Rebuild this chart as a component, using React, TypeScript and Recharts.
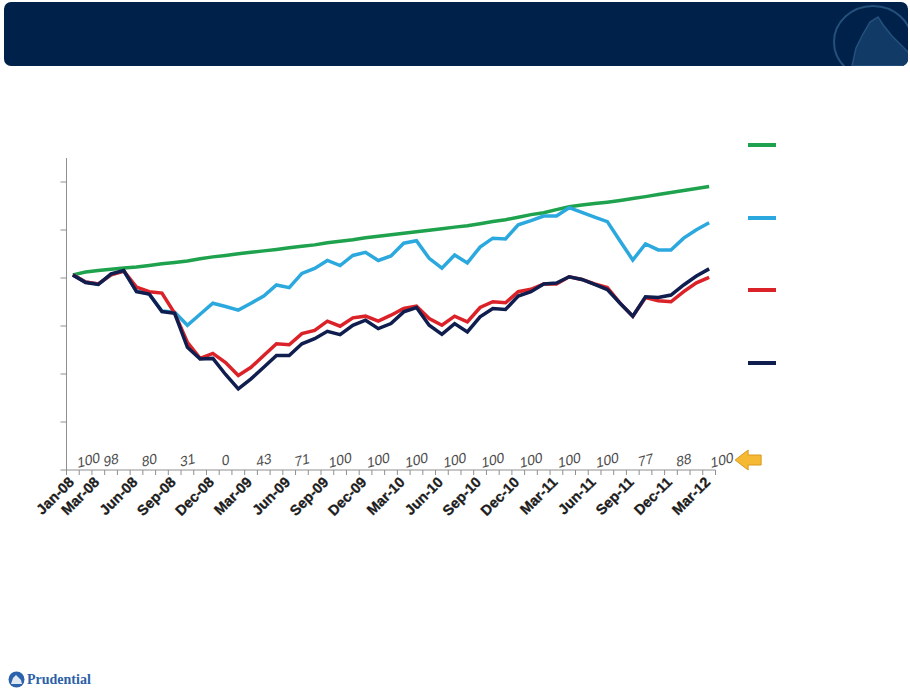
import React from 'react'
import { LineChart, Line, XAxis, YAxis, Legend } from 'recharts'

// monthly categories, Jan-08 .. Mar-12
const months = [
  'Jan-08', 'Feb-08', 'Mar-08', 'Apr-08', 'May-08', 'Jun-08', 'Jul-08', 'Aug-08', 'Sep-08', 'Oct-08', 'Nov-08', 'Dec-08',
  'Jan-09', 'Feb-09', 'Mar-09', 'Apr-09', 'May-09', 'Jun-09', 'Jul-09', 'Aug-09', 'Sep-09', 'Oct-09', 'Nov-09', 'Dec-09',
  'Jan-10', 'Feb-10', 'Mar-10', 'Apr-10', 'May-10', 'Jun-10', 'Jul-10', 'Aug-10', 'Sep-10', 'Oct-10', 'Nov-10', 'Dec-10',
  'Jan-11', 'Feb-11', 'Mar-11', 'Apr-11', 'May-11', 'Jun-11', 'Jul-11', 'Aug-11', 'Sep-11', 'Oct-11', 'Nov-11', 'Dec-11',
  'Jan-12', 'Feb-12', 'Mar-12',
]

const greenSeries = [
  101.3, 102.5, 103.1, 103.6, 104.2, 104.6, 105.2, 105.9, 106.5, 107.1, 108.0, 108.8,
  109.4, 110.1, 110.7, 111.3, 111.9, 112.6, 113.2, 113.8, 114.7, 115.3, 115.9, 116.8,
  117.4, 118.0, 118.6, 119.3, 119.9, 120.5, 121.2, 121.8, 122.6, 123.5, 124.3, 125.3,
  126.4, 127.2, 128.5, 129.7, 130.4, 131.0, 131.6, 132.3, 133.1, 133.9, 134.8, 135.6,
  136.5, 137.3, 138.1,
]

const blueSeries = [
  101.3, 98.3, 97.5, 101.3, 102.9, 94.6, 93.3, 86.2, 85.8, 80.3, 84.9, 89.5,
  88.1, 86.6, 89.5, 92.5, 97.1, 96.0, 101.9, 104.0, 107.3, 105.2, 109.4, 110.7,
  107.3, 109.2, 114.5, 115.5, 108.2, 104.1, 109.6, 106.3, 112.9, 116.6, 116.3, 122.2,
  123.9, 125.8, 125.8, 129.3, 127.3, 125.4, 123.5, 115.4, 107.5, 114.2, 111.7, 111.7,
  116.6, 120.1, 123.0,
]

const redSeries = [
  101.3, 98.3, 97.5, 101.3, 102.9, 96.2, 94.3, 93.7, 85.3, 73.2, 66.5, 68.6,
  64.8, 59.4, 62.8, 67.7, 72.6, 72.2, 76.8, 78.2, 82.0, 79.9, 83.4, 84.1,
  82.0, 84.5, 87.3, 88.3, 83.1, 80.3, 84.1, 81.7, 87.7, 90.1, 89.7, 94.3,
  95.3, 97.5, 97.5, 100.5, 99.4, 97.5, 96.0, 89.5, 84.1, 91.9, 90.5, 90.1,
  94.3, 98.0, 100.3,
]

const navySeries = [
  101.3, 98.1, 97.3, 101.7, 103.1, 94.3, 93.3, 86.0, 85.3, 71.1, 66.3, 66.5,
  59.8, 53.8, 58.0, 62.8, 67.7, 67.7, 72.6, 74.7, 77.8, 76.4, 80.3, 82.4,
  78.9, 81.0, 85.9, 87.7, 80.3, 76.5, 81.0, 77.5, 83.8, 87.3, 86.9, 92.5,
  94.3, 97.5, 97.9, 100.5, 99.4, 97.3, 95.2, 89.5, 84.1, 92.2, 91.9, 92.9,
  97.1, 100.8, 103.8,
]

// labelled months and the score written above each one
const labelMonths = [
  'Jan-08', 'Mar-08', 'Jun-08', 'Sep-08', 'Dec-08', 'Mar-09', 'Jun-09', 'Sep-09', 'Dec-09',
  'Mar-10', 'Jun-10', 'Sep-10', 'Dec-10', 'Mar-11', 'Jun-11', 'Sep-11', 'Dec-11', 'Mar-12',
]
const scores = [100, 98, 80, 31, 0, 43, 71, 100, 100, 100, 100, 100, 100, 100, 100, 77, 88, 100]

const yTicks = [20, 40, 60, 80, 100, 120, 140]

// legend order, top to bottom
const seriesOrder = ['green', 'blue', 'red', 'navy']

const data = months.map((m, i) => ({
  month: m,
  green: greenSeries[i],
  blue: blueSeries[i],
  red: redSeries[i],
  navy: navySeries[i],
}))

const PLOT_LEFT = 66.5
const PLOT_RIGHT = 715.5
const HALF_BAND = (PLOT_RIGHT - PLOT_LEFT) / months.length / 2
const AXIS_GREY = '#8f8f8f'

function MonthTick(props: any) {
  const { x, y, payload } = props
  const i = months.indexOf(payload.value)
  const k = labelMonths.indexOf(payload.value)
  const last = i === months.length - 1
  const sx = x + (k === 0 ? 16 : 13)
  const sy = y - 5
  return (
    <g>
      <line x1={x - HALF_BAND} x2={x - HALF_BAND} y1={y} y2={y + 5} stroke={AXIS_GREY} />
      {last && <line x1={x + HALF_BAND} x2={x + HALF_BAND} y1={y} y2={y + 5} stroke={AXIS_GREY} />}
      {k >= 0 && (
        <>
          <text
            x={x + 2}
            y={y + 13}
            transform={`rotate(-45, ${x + 2}, ${y + 13})`}
            textAnchor="end"
            fontFamily="Arial, 'Liberation Sans', sans-serif"
            fontWeight="bold"
            fontSize={14.5}
            fill="#1c1c1c"
            stroke="#1c1c1c"
            strokeWidth={0.3}
          >
            {payload.value}
          </text>
          <g transform={`translate(${sx}, ${sy}) rotate(-15) skewX(-14)`}>
            <text
              x={0}
              y={0}
              textAnchor="middle"
              fontFamily="'Liberation Sans', Arial, sans-serif"
              fontSize={14}
              fill="#4d4d4d"
            >
              {scores[k]}
            </text>
          </g>
        </>
      )}
      {last && (
        <polygon
          points={`${x + 26},${y - 10} ${x + 39},${y - 20} ${x + 39},${y - 15} ${x + 52},${y - 15} ${x + 52},${y - 5} ${x + 39},${y - 5} ${x + 39},${y} `}
          fill="#F6B934"
          stroke="#D99A1C"
          strokeWidth={1}
        />
      )}
    </g>
  )
}

function NoLabel() {
  return <g />
}

function SwatchLegend({ payload }: any) {
  const items = [...(payload || [])].sort(
    (a: any, b: any) => seriesOrder.indexOf(a.dataKey) - seriesOrder.indexOf(b.dataKey),
  )
  return (
    <div>
      {items.map((p: any) => (
        <div key={p.dataKey} style={{ width: 28, height: 4, background: p.color, marginBottom: 68.7 }} />
      ))}
    </div>
  )
}

function Header() {
  return (
    <svg width={910} height={70} style={{ position: 'absolute', left: 0, top: 0 }}>
      <defs>
        <clipPath id="hdr">
          <rect x={4} y={2} width={904} height={64} rx={7} />
        </clipPath>
      </defs>
      <rect x={4} y={2} width={904} height={64} rx={7} fill="#002149" />
      <g clipPath="url(#hdr)">
        <ellipse cx={873} cy={42} rx={39} ry={36} fill="none" stroke="#24507C" strokeWidth={2} />
        <polygon
          points="852,66 856,48 863,34 870,22 878,17 884,26 892,36 902,46 910,54 910,66"
          fill="#123A66"
          stroke="#24507C"
          strokeWidth={1.5}
        />
      </g>
    </svg>
  )
}

function Footer() {
  return (
    <div style={{ position: 'absolute', left: 8, top: 671, display: 'flex', alignItems: 'center' }}>
      <svg width={17} height={17}>
        <circle cx={8.5} cy={8.5} r={8} fill="#2C62AC" />
        <path d="M3 13 L5 7 L8 4 L10 6 L13 9 L14 13 Z" fill="#ffffff" opacity={0.85} />
      </svg>
      <span
        style={{
          marginLeft: 2,
          fontFamily: "'Liberation Serif', 'DejaVu Serif', serif",
          fontWeight: 'bold',
          fontSize: 14,
          color: '#2C5FA8',
        }}
      >
        Prudential
      </span>
    </div>
  )
}

export default function App() {
  return (
    <div style={{ position: 'absolute', left: 0, top: 0, width: 910, height: 693, background: '#fff' }}>
      <Header />
      <div style={{ position: 'absolute', left: 0, top: 0 }}>
        <LineChart
          width={910}
          height={693}
          data={data}
          margin={{ top: 158, right: 910 - PLOT_RIGHT, bottom: 163, left: PLOT_LEFT - 50 }}
        >
          <XAxis
            dataKey="month"
            interval={0}
            height={60}
            padding={{ left: HALF_BAND, right: HALF_BAND }}
            axisLine={{ stroke: AXIS_GREY }}
            tickLine={false}
            tickSize={0}
            tickMargin={0}
            tick={<MonthTick />}
          />
          <YAxis
            width={50}
            domain={[20, 150]}
            ticks={yTicks}
            tick={<NoLabel />}
            tickSize={6}
            axisLine={{ stroke: AXIS_GREY }}
            tickLine={{ stroke: AXIS_GREY }}
          />
          <Legend
            layout="vertical"
            align="center"
            verticalAlign="middle"
            content={<SwatchLegend />}
            wrapperStyle={{ left: 748, top: 143, width: 30 }}
          />
          <Line type="linear" dataKey="green" name="green" stroke="#1EA24D" strokeWidth={3.5} dot={false} isAnimationActive={false} />
          <Line type="linear" dataKey="blue" name="blue" stroke="#2BA9DF" strokeWidth={3.5} dot={false} isAnimationActive={false} />
          <Line type="linear" dataKey="red" name="red" stroke="#DB2229" strokeWidth={3.5} dot={false} isAnimationActive={false} />
          <Line type="linear" dataKey="navy" name="navy" stroke="#0F1E4E" strokeWidth={3.5} dot={false} isAnimationActive={false} />
        </LineChart>
      </div>
      <Footer />
    </div>
  )
}
